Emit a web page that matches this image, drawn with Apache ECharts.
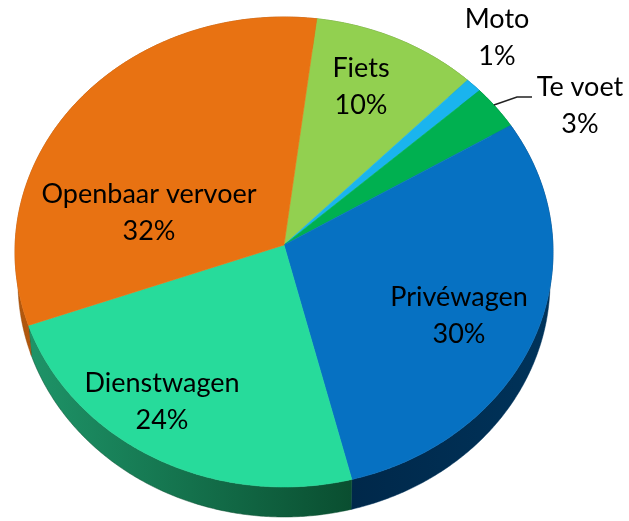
<!DOCTYPE html>
<html><head><meta charset="utf-8">
<script src="https://cdn.jsdelivr.net/npm/echarts@6/dist/echarts.min.js"></script>
<style>html,body{margin:0;padding:0;background:#fff}#c{width:629px;height:521px}</style>
</head><body><div id="c"></div>
<script>
// ---- data ----
const categories = ['Fiets', 'Moto', 'Te voet', 'Privéwagen', 'Dienstwagen', 'Openbaar vervoer'];
const values = [10, 1, 3, 30, 24, 32];
const percentLabels = ['10%', '1%', '3%', '30%', '24%', '32%'];

// ---- styles / layout ----
const topColors = ['#92d050', '#1ab4ee', '#00b050', '#0671c2', '#27db9b', '#e87212'];
const sideColors = [['#5e8c30', '#4c7526'], ['#0c74a4', '#0a6088'], ['#007c3a', '#00642e'],
                    ['#00284a', '#00335a'], ['#1e9468', '#0a4e30'], ['#b2580e', '#9a4a08']];
const GEO = { cx: 284, cy: 252, rx: 269, ry: 235, rxBottom: 266, apexY: 245, depth: 30, start: 7 };
const labelPos = {
  'Fiets': [361, 87], 'Moto': [497, 38], 'Te voet': [580, 106],
  'Privéwagen': [459, 316], 'Dienstwagen': [162, 402], 'Openbaar vervoer': [149, 213]
};
const leader = { 'Te voet': [[517, 97], [532, 97]] };
const FONT = '27px Lato, "Open Sans", sans-serif';

const total = values.reduce((a, b) => a + b, 0);
function angles(i) {
  let s = 0;
  for (let k = 0; k < i; k++) s += values[k];
  const a0 = GEO.start + s / total * 360;
  const a1 = a0 + values[i] / total * 360;
  return [a0, a1];
}
function pt(theta, dy, rx) {
  const t = theta * Math.PI / 180;
  return [GEO.cx + (rx || GEO.rx) * Math.sin(t), GEO.cy - GEO.ry * Math.cos(t) + (dy || 0)];
}
function arc(a0, a1, dy, rx) {
  const pts = [];
  const n = Math.max(2, Math.ceil((a1 - a0) / 0.5));
  for (let k = 0; k <= n; k++) pts.push(pt(a0 + (a1 - a0) * k / n, dy, rx));
  return pts;
}

const seriesData = values.map((v, i) => ({ name: categories[i], value: v }));

const option = {
  animation: false,
  backgroundColor: '#ffffff',
  series: [
    {
      type: 'custom', coordinateSystem: 'none', z: 1,
      data: seriesData,
      renderItem: function (params, api) {
        const i = params.dataIndex;
        const [a0, a1] = angles(i);
        const top = arc(a0, a1, 0);
        const bottom = arc(a0, a1, GEO.depth, GEO.rxBottom).reverse();
        return {
          type: 'polygon',
          shape: { points: top.concat(bottom) },
          style: {
            fill: new echarts.graphic.LinearGradient(0, 0, 1, 0, [
              { offset: 0, color: sideColors[i][0] }, { offset: 1, color: sideColors[i][1] }]),
            stroke: sideColors[i][1], lineWidth: 0.5
          }
        };
      }
    },
    {
      type: 'custom', coordinateSystem: 'none', z: 2,
      data: seriesData,
      renderItem: function (params, api) {
        const i = params.dataIndex;
        const [a0, a1] = angles(i);
        const pts = [[GEO.cx, GEO.apexY]].concat(arc(a0, a1, 0));
        return {
          type: 'polygon',
          shape: { points: pts },
          style: { fill: topColors[i], stroke: topColors[i], lineWidth: 0.6 }
        };
      }
    },
    {
      type: 'custom', coordinateSystem: 'none', z: 3,
      data: seriesData,
      renderItem: function (params, api) {
        const i = params.dataIndex;
        const name = categories[i];
        const p = labelPos[name];
        const children = [{
          type: 'text',
          x: p[0], y: p[1],
          style: {
            text: name + '\n' + percentLabels[i],
            font: FONT, fill: '#000000',
            align: 'center', verticalAlign: 'middle', lineHeight: 37
          }
        }];
        if (leader[name]) {
          const [a0, a1] = angles(i);
          const s = pt((a0 + a1) / 2 - 0.7, 0);
          children.push({
            type: 'polyline',
            shape: { points: [s].concat(leader[name]) },
            style: { stroke: '#222222', lineWidth: 1.5, fill: null }
          });
        }
        return { type: 'group', children: children };
      }
    }
  ]
};
const chart = echarts.init(document.getElementById('c'), null, { renderer: 'canvas' });
chart.setOption(option);
</script>
</body></html>
